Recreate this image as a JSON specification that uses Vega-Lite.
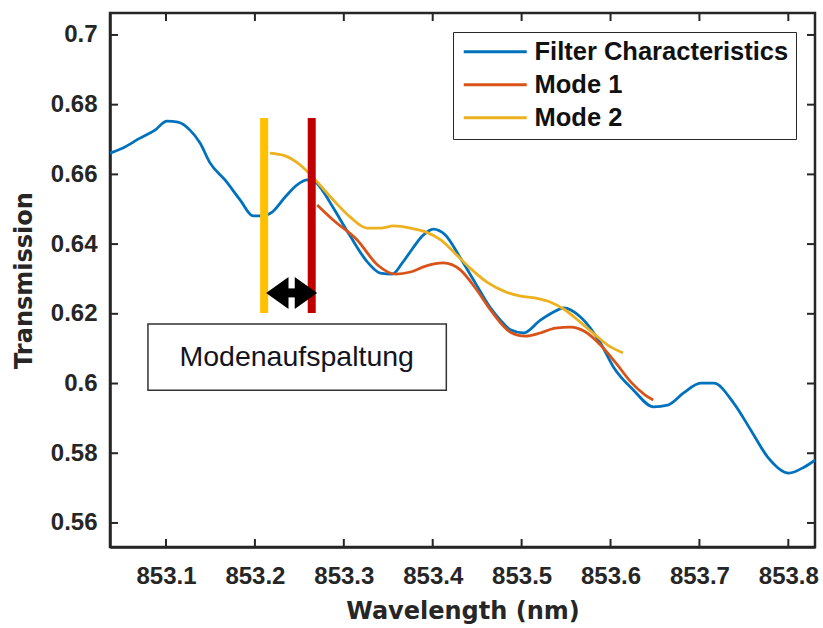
{
  "$schema": "https://vega.github.io/schema/vega-lite/v6.json",
  "width": 705,
  "height": 534,
  "autosize": {"type": "none"},
  "padding": {"left": 110, "top": 13, "right": 8, "bottom": 81},
  "background": "white",
  "config": {
    "view": {"stroke": "#262626", "strokeWidth": 2.5},
    "font": "Liberation Sans"
  },
  "datasets": {
    "curves": [
      {"series": "Filter Characteristics", "wl": 853.0369, "T": 0.6661},
      {"series": "Filter Characteristics", "wl": 853.0516, "T": 0.6676},
      {"series": "Filter Characteristics", "wl": 853.0707, "T": 0.6704},
      {"series": "Filter Characteristics", "wl": 853.0876, "T": 0.6727},
      {"series": "Filter Characteristics", "wl": 853.1011, "T": 0.6753},
      {"series": "Filter Characteristics", "wl": 853.1135, "T": 0.6750},
      {"series": "Filter Characteristics", "wl": 853.1270, "T": 0.6727},
      {"series": "Filter Characteristics", "wl": 853.1383, "T": 0.6690},
      {"series": "Filter Characteristics", "wl": 853.1495, "T": 0.6633},
      {"series": "Filter Characteristics", "wl": 853.1664, "T": 0.6584},
      {"series": "Filter Characteristics", "wl": 853.1833, "T": 0.6527},
      {"series": "Filter Characteristics", "wl": 853.1980, "T": 0.6481},
      {"series": "Filter Characteristics", "wl": 853.2081, "T": 0.6481},
      {"series": "Filter Characteristics", "wl": 853.2194, "T": 0.6492},
      {"series": "Filter Characteristics", "wl": 853.2340, "T": 0.6535},
      {"series": "Filter Characteristics", "wl": 853.2475, "T": 0.6570},
      {"series": "Filter Characteristics", "wl": 853.2588, "T": 0.6584},
      {"series": "Filter Characteristics", "wl": 853.2678, "T": 0.6578},
      {"series": "Filter Characteristics", "wl": 853.2757, "T": 0.6555},
      {"series": "Filter Characteristics", "wl": 853.2881, "T": 0.6504},
      {"series": "Filter Characteristics", "wl": 853.3072, "T": 0.6423},
      {"series": "Filter Characteristics", "wl": 853.3264, "T": 0.6349},
      {"series": "Filter Characteristics", "wl": 853.3410, "T": 0.6317},
      {"series": "Filter Characteristics", "wl": 853.3545, "T": 0.6314},
      {"series": "Filter Characteristics", "wl": 853.3658, "T": 0.6346},
      {"series": "Filter Characteristics", "wl": 853.3770, "T": 0.6386},
      {"series": "Filter Characteristics", "wl": 853.3883, "T": 0.6423},
      {"series": "Filter Characteristics", "wl": 853.4007, "T": 0.6443},
      {"series": "Filter Characteristics", "wl": 853.4142, "T": 0.6426},
      {"series": "Filter Characteristics", "wl": 853.4311, "T": 0.6360},
      {"series": "Filter Characteristics", "wl": 853.4480, "T": 0.6288},
      {"series": "Filter Characteristics", "wl": 853.4649, "T": 0.6217},
      {"series": "Filter Characteristics", "wl": 853.4761, "T": 0.6182},
      {"series": "Filter Characteristics", "wl": 853.4874, "T": 0.6154},
      {"series": "Filter Characteristics", "wl": 853.5020, "T": 0.6145},
      {"series": "Filter Characteristics", "wl": 853.5212, "T": 0.6182},
      {"series": "Filter Characteristics", "wl": 853.5381, "T": 0.6208},
      {"series": "Filter Characteristics", "wl": 853.5471, "T": 0.6217},
      {"series": "Filter Characteristics", "wl": 853.5662, "T": 0.6191},
      {"series": "Filter Characteristics", "wl": 853.5887, "T": 0.6116},
      {"series": "Filter Characteristics", "wl": 853.6034, "T": 0.6047},
      {"series": "Filter Characteristics", "wl": 853.6259, "T": 0.5981},
      {"series": "Filter Characteristics", "wl": 853.6484, "T": 0.5933},
      {"series": "Filter Characteristics", "wl": 853.6642, "T": 0.5938},
      {"series": "Filter Characteristics", "wl": 853.6822, "T": 0.5973},
      {"series": "Filter Characteristics", "wl": 853.7014, "T": 0.6001},
      {"series": "Filter Characteristics", "wl": 853.7160, "T": 0.6001},
      {"series": "Filter Characteristics", "wl": 853.7385, "T": 0.5944},
      {"series": "Filter Characteristics", "wl": 853.7577, "T": 0.5867},
      {"series": "Filter Characteristics", "wl": 853.7768, "T": 0.5789},
      {"series": "Filter Characteristics", "wl": 853.8005, "T": 0.5743},
      {"series": "Filter Characteristics", "wl": 853.8176, "T": 0.5760},
      {"series": "Filter Characteristics", "wl": 853.8300, "T": 0.5780},
      {"series": "Mode 1", "wl": 853.270, "T": 0.6512},
      {"series": "Mode 1", "wl": 853.288, "T": 0.6469},
      {"series": "Mode 1", "wl": 853.315, "T": 0.6412},
      {"series": "Mode 1", "wl": 853.338, "T": 0.6340},
      {"series": "Mode 1", "wl": 853.358, "T": 0.6314},
      {"series": "Mode 1", "wl": 853.375, "T": 0.6320},
      {"series": "Mode 1", "wl": 853.392, "T": 0.6337},
      {"series": "Mode 1", "wl": 853.412, "T": 0.6346},
      {"series": "Mode 1", "wl": 853.431, "T": 0.6326},
      {"series": "Mode 1", "wl": 853.448, "T": 0.6274},
      {"series": "Mode 1", "wl": 853.465, "T": 0.6211},
      {"series": "Mode 1", "wl": 853.487, "T": 0.6148},
      {"series": "Mode 1", "wl": 853.504, "T": 0.6136},
      {"series": "Mode 1", "wl": 853.521, "T": 0.6145},
      {"series": "Mode 1", "wl": 853.538, "T": 0.6159},
      {"series": "Mode 1", "wl": 853.555, "T": 0.6162},
      {"series": "Mode 1", "wl": 853.572, "T": 0.6148},
      {"series": "Mode 1", "wl": 853.589, "T": 0.6110},
      {"series": "Mode 1", "wl": 853.606, "T": 0.6059},
      {"series": "Mode 1", "wl": 853.623, "T": 0.6004},
      {"series": "Mode 1", "wl": 853.639, "T": 0.5967},
      {"series": "Mode 1", "wl": 853.648, "T": 0.5953},
      {"series": "Mode 2", "wl": 853.217, "T": 0.6661},
      {"series": "Mode 2", "wl": 853.234, "T": 0.6653},
      {"series": "Mode 2", "wl": 853.251, "T": 0.6627},
      {"series": "Mode 2", "wl": 853.268, "T": 0.6584},
      {"series": "Mode 2", "wl": 853.288, "T": 0.6527},
      {"series": "Mode 2", "wl": 853.307, "T": 0.6478},
      {"series": "Mode 2", "wl": 853.326, "T": 0.6446},
      {"series": "Mode 2", "wl": 853.341, "T": 0.6446},
      {"series": "Mode 2", "wl": 853.356, "T": 0.6452},
      {"series": "Mode 2", "wl": 853.375, "T": 0.6446},
      {"series": "Mode 2", "wl": 853.392, "T": 0.6435},
      {"series": "Mode 2", "wl": 853.409, "T": 0.6412},
      {"series": "Mode 2", "wl": 853.425, "T": 0.6374},
      {"series": "Mode 2", "wl": 853.442, "T": 0.6331},
      {"series": "Mode 2", "wl": 853.461, "T": 0.6291},
      {"series": "Mode 2", "wl": 853.482, "T": 0.6263},
      {"series": "Mode 2", "wl": 853.499, "T": 0.6251},
      {"series": "Mode 2", "wl": 853.516, "T": 0.6245},
      {"series": "Mode 2", "wl": 853.532, "T": 0.6234},
      {"series": "Mode 2", "wl": 853.549, "T": 0.6211},
      {"series": "Mode 2", "wl": 853.566, "T": 0.6176},
      {"series": "Mode 2", "wl": 853.583, "T": 0.6139},
      {"series": "Mode 2", "wl": 853.600, "T": 0.6105},
      {"series": "Mode 2", "wl": 853.614, "T": 0.6088}
    ],
    "xticks": [
      {"wl": 853.1, "b0": 0.5531, "b1": 0.5554, "t0": 0.7063, "t1": 0.7040},
      {"wl": 853.2, "b0": 0.5531, "b1": 0.5554, "t0": 0.7063, "t1": 0.7040},
      {"wl": 853.3, "b0": 0.5531, "b1": 0.5554, "t0": 0.7063, "t1": 0.7040},
      {"wl": 853.4, "b0": 0.5531, "b1": 0.5554, "t0": 0.7063, "t1": 0.7040},
      {"wl": 853.5, "b0": 0.5531, "b1": 0.5554, "t0": 0.7063, "t1": 0.7040},
      {"wl": 853.6, "b0": 0.5531, "b1": 0.5554, "t0": 0.7063, "t1": 0.7040},
      {"wl": 853.7, "b0": 0.5531, "b1": 0.5554, "t0": 0.7063, "t1": 0.7040},
      {"wl": 853.8, "b0": 0.5531, "b1": 0.5554, "t0": 0.7063, "t1": 0.7040}
    ],
    "yticks": [
      {"T": 0.56, "l0": 853.037, "l1": 853.046, "r0": 853.83, "r1": 853.821},
      {"T": 0.58, "l0": 853.037, "l1": 853.046, "r0": 853.83, "r1": 853.821},
      {"T": 0.60, "l0": 853.037, "l1": 853.046, "r0": 853.83, "r1": 853.821},
      {"T": 0.62, "l0": 853.037, "l1": 853.046, "r0": 853.83, "r1": 853.821},
      {"T": 0.64, "l0": 853.037, "l1": 853.046, "r0": 853.83, "r1": 853.821},
      {"T": 0.66, "l0": 853.037, "l1": 853.046, "r0": 853.83, "r1": 853.821},
      {"T": 0.68, "l0": 853.037, "l1": 853.046, "r0": 853.83, "r1": 853.821},
      {"T": 0.70, "l0": 853.037, "l1": 853.046, "r0": 853.83, "r1": 853.821}
    ]
  },
  "layer": [
    {
      "data": {"name": "curves"},
      "mark": {"type": "line", "strokeWidth": 2.8, "clip": true, "interpolate": "monotone"},
      "encoding": {
        "x": {
          "field": "wl", "type": "quantitative",
          "scale": {"domain": [853.037, 853.83], "nice": false, "zero": false},
          "axis": {
            "orient": "bottom",
            "values": [853.1, 853.2, 853.3, 853.4, 853.5, 853.6, 853.7, 853.8],
            "format": ".1f",
            "title": "Wavelength (nm)",
            "grid": false, "ticks": false, "tickSize": 0,
            "domainColor": "#262626", "domainWidth": 2.5,
            "labelFont": "Liberation Sans", "labelFontSize": 24, "labelFontWeight": "bold", "labelColor": "#262626",
            "labelPadding": 17,
            "titleFont": "DejaVu Sans", "titleFontSize": 24, "titleFontWeight": "bold", "titleColor": "#262626",
            "titlePadding": 11
          }
        },
        "y": {
          "field": "T", "type": "quantitative",
          "scale": {"domain": [0.5531, 0.7063], "nice": false, "zero": false},
          "axis": {
            "orient": "left",
            "values": [0.56, 0.58, 0.6, 0.62, 0.64, 0.66, 0.68, 0.7],
            "format": "~g",
            "title": "Transmission",
            "grid": false, "ticks": false, "tickSize": 0,
            "domainColor": "#262626", "domainWidth": 2.5,
            "labelFont": "Liberation Sans", "labelFontSize": 24, "labelFontWeight": "bold", "labelColor": "#262626",
            "labelPadding": 13,
            "titleFont": "DejaVu Sans", "titleFontSize": 24, "titleFontWeight": "bold", "titleColor": "#262626",
            "titlePadding": 14
          }
        },
        "color": {
          "field": "series", "type": "nominal",
          "scale": {
            "domain": ["Filter Characteristics", "Mode 1", "Mode 2"],
            "range": ["#0072BD", "#D95319", "#EDB120"]
          },
          "legend": {
            "orient": "none", "legendX": 343, "legendY": 19,
            "title": null,
            "fillColor": "white", "strokeColor": "#262626",
            "padding": 7,
            "symbolType": "M -0.857 0 L 5.143 0", "symbolSize": 441, "symbolStrokeWidth": 3,
            "labelFont": "Liberation Sans", "labelFontSize": 25.5, "labelFontWeight": "bold", "labelColor": "#111111",
            "labelOffset": 49, "rowPadding": 6, "labelLimit": 400
          }
        }
      }
    },
    {
      "data": {"name": "xticks"},
      "mark": {"type": "rule", "color": "#262626", "strokeWidth": 2},
      "encoding": {
        "x": {"field": "wl", "type": "quantitative"},
        "y": {"field": "b0", "type": "quantitative"},
        "y2": {"field": "b1"}
      }
    },
    {
      "data": {"name": "xticks"},
      "mark": {"type": "rule", "color": "#262626", "strokeWidth": 2},
      "encoding": {
        "x": {"field": "wl", "type": "quantitative"},
        "y": {"field": "t0", "type": "quantitative"},
        "y2": {"field": "t1"}
      }
    },
    {
      "data": {"name": "yticks"},
      "mark": {"type": "rule", "color": "#262626", "strokeWidth": 2},
      "encoding": {
        "y": {"field": "T", "type": "quantitative"},
        "x": {"field": "l0", "type": "quantitative"},
        "x2": {"field": "l1"}
      }
    },
    {
      "data": {"name": "yticks"},
      "mark": {"type": "rule", "color": "#262626", "strokeWidth": 2},
      "encoding": {
        "y": {"field": "T", "type": "quantitative"},
        "x": {"field": "r0", "type": "quantitative"},
        "x2": {"field": "r1"}
      }
    },
    {
      "data": {"values": [{"wl": 853.2104, "T1": 0.6202, "T2": 0.6762}]},
      "mark": {"type": "rule", "color": "#FFC000", "strokeWidth": 8},
      "encoding": {
        "x": {"field": "wl", "type": "quantitative"},
        "y": {"field": "T1", "type": "quantitative"},
        "y2": {"field": "T2"}
      }
    },
    {
      "data": {"values": [{"wl": 853.2639, "T1": 0.6202, "T2": 0.6762}]},
      "mark": {"type": "rule", "color": "#C00000", "strokeWidth": 8},
      "encoding": {
        "x": {"field": "wl", "type": "quantitative"},
        "y": {"field": "T1", "type": "quantitative"},
        "y2": {"field": "T2"}
      }
    },
    {
      "data": {"values": [{"wl1": 853.2306, "wl2": 853.2520, "T": 0.6260}]},
      "mark": {"type": "rule", "color": "black", "strokeWidth": 9},
      "encoding": {
        "x": {"field": "wl1", "type": "quantitative"},
        "x2": {"field": "wl2"},
        "y": {"field": "T", "type": "quantitative"}
      }
    },
    {
      "data": {"values": [{"wl": 853.2306, "T": 0.6260}]},
      "mark": {"type": "point", "shape": "M -1 0 L 0.4 -1 L 0.4 1 Z", "size": 1024, "filled": true, "color": "black", "opacity": 1},
      "encoding": {
        "x": {"field": "wl", "type": "quantitative"},
        "y": {"field": "T", "type": "quantitative"}
      }
    },
    {
      "data": {"values": [{"wl": 853.2520, "T": 0.6260}]},
      "mark": {"type": "point", "shape": "M 1 0 L -0.4 -1 L -0.4 1 Z", "size": 1024, "filled": true, "color": "black", "opacity": 1},
      "encoding": {
        "x": {"field": "wl", "type": "quantitative"},
        "y": {"field": "T", "type": "quantitative"}
      }
    },
    {
      "data": {"values": [{"wl1": 853.0797, "wl2": 853.4153, "T1": 0.6171, "T2": 0.5981}]},
      "mark": {"type": "rect", "fill": "white", "stroke": "#333333", "strokeWidth": 1.5},
      "encoding": {
        "x": {"field": "wl1", "type": "quantitative"},
        "x2": {"field": "wl2"},
        "y": {"field": "T1", "type": "quantitative"},
        "y2": {"field": "T2"}
      }
    },
    {
      "data": {"values": [{"wl": 853.247, "T": 0.6076, "label": "Modenaufspaltung"}]},
      "mark": {"type": "text", "font": "Liberation Sans", "fontSize": 28.5, "color": "#141420", "align": "center", "baseline": "middle"},
      "encoding": {
        "x": {"field": "wl", "type": "quantitative"},
        "y": {"field": "T", "type": "quantitative"},
        "text": {"field": "label"}
      }
    }
  ]
}
